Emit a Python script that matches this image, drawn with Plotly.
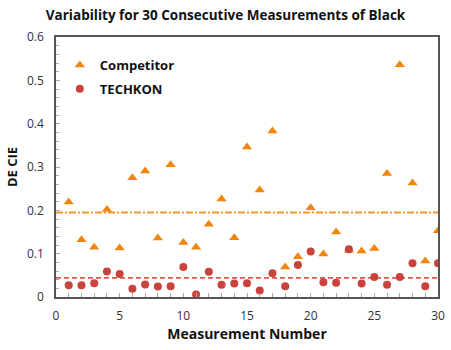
import plotly.graph_objects as go

measurement = list(range(1, 31))
competitor = [0.219, 0.132, 0.115, 0.202, 0.113, 0.275, 0.291, 0.136, 0.305, 0.126,
              0.115, 0.168, 0.226, 0.137, 0.346, 0.247, 0.383, 0.069, 0.093, 0.206,
              0.099, 0.150, 0.108, 0.106, 0.112, 0.285, 0.536, 0.263, 0.083, 0.153]
techkon = [0.027, 0.027, 0.032, 0.059, 0.053, 0.019, 0.029, 0.024, 0.025, 0.069,
           0.006, 0.058, 0.028, 0.031, 0.032, 0.015, 0.055, 0.025, 0.074, 0.105,
           0.034, 0.033, 0.110, 0.031, 0.046, 0.028, 0.046, 0.078, 0.025, 0.078]
competitor_mean = 0.195
techkon_mean = 0.044

font = "Open Sans"
orange = "#F0860F"
red = "#C9433C"

fig = go.Figure()
fig.add_trace(go.Scatter(x=[0, 30], y=[competitor_mean]*2, mode="lines",
                         line=dict(color="#F39A2E", width=2, dash="7px,2px,2px,2px"),
                         showlegend=False, hoverinfo="skip"))
fig.add_trace(go.Scatter(x=[0, 30], y=[techkon_mean]*2, mode="lines",
                         line=dict(color="#E4554C", width=1.8, dash="5px,3px"),
                         showlegend=False, hoverinfo="skip"))
fig.add_trace(go.Scatter(x=measurement, y=competitor, mode="markers", name="<b>Competitor</b>",
                         legendgroup="c", legendrank=1,
                         marker=dict(symbol="triangle-up", size=9, color=orange)))
fig.add_trace(go.Scatter(x=measurement, y=techkon, mode="markers", name="<b>TECHKON</b>",
                         legendgroup="t", legendrank=2,
                         marker=dict(symbol="circle", size=8, color=red)))

fig.update_layout(
    width=451, height=350,
    margin=dict(l=56, r=13, t=37, b=53),
    paper_bgcolor="white", plot_bgcolor="white",
    showlegend=True,
    title=dict(text="<b>Variability for 30 Consecutive Measurements of Black</b>",
               x=0.5, xanchor="center", y=0.955, yanchor="middle",
               font=dict(family=font, size=13.5, color="#111111")),
    font=dict(family=font, size=12, color="#222222"),
    legend=dict(x=0.01, y=0.95, xanchor="left", yanchor="top",
                bgcolor="rgba(0,0,0,0)", font=dict(family=font, size=13, color="#111111"),
                tracegroupgap=4),
    xaxis=dict(range=[0, 30], tickmode="linear", tick0=0, dtick=5,
               showgrid=False, zeroline=False, automargin=False,
               showline=True, linecolor="#555555", linewidth=1.5, mirror=True,
               ticks="inside", ticklen=4, tickcolor="#aaaaaa",
               minor=dict(dtick=1, ticks="inside", ticklen=4, tickcolor="#aaaaaa"),
               ticklabelstandoff=7,
               title=dict(text="<b>Measurement Number</b>", font=dict(family=font, size=14, color="#111111"),
                          standoff=5),
               tickfont=dict(size=12, color="#333333")),
    yaxis=dict(range=[0, 0.6], tickmode="linear", tick0=0, dtick=0.1,
               showgrid=False, zeroline=False, automargin=False,
               showline=True, linecolor="#555555", linewidth=1.5, mirror=True,
               ticks="inside", ticklen=4, tickcolor="#aaaaaa",
               minor=dict(dtick=0.02, ticks="inside", ticklen=3, tickcolor="#aaaaaa"),
               ticklabelstandoff=8,
               title=dict(text="<b>DE CIE</b>", font=dict(family=font, size=13, color="#111111"),
                          standoff=6),
               tickfont=dict(size=12, color="#333333")),
)

fig.write_html("out.html")
